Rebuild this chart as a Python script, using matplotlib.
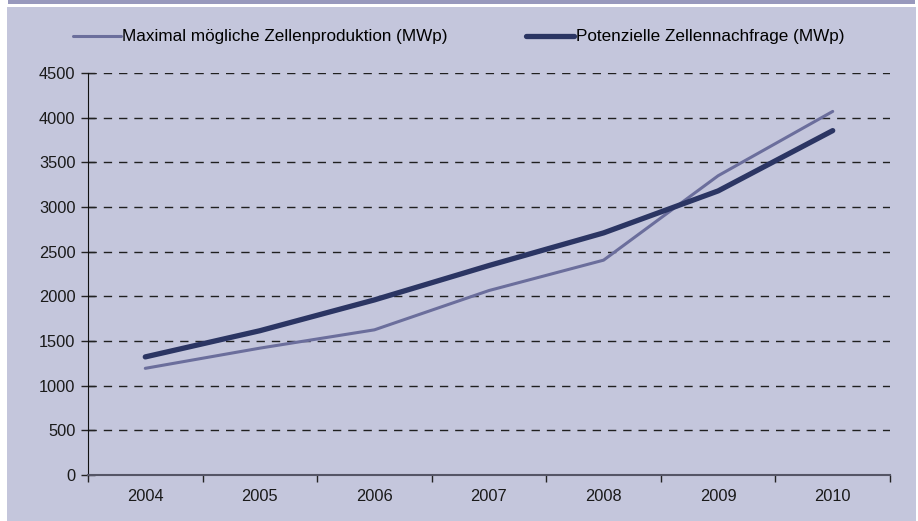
import matplotlib
matplotlib.use("Agg")
import matplotlib.pyplot as plt
from matplotlib.patches import Rectangle

plt.rcParams['font.family'] = ['Liberation Sans', 'DejaVu Sans']

years = ["2004", "2005", "2006", "2007", "2008", "2009", "2010"]
produktion = [1194, 1420, 1625, 2065, 2405, 3350, 4070]
nachfrage = [1322, 1615, 1960, 2345, 2710, 3180, 3855]
yticks = [0, 500, 1000, 1500, 2000, 2500, 3000, 3500, 4000, 4500]

W, H = 918, 521
fig = plt.figure(figsize=(W / 100, H / 100), dpi=100)
fig.patch.set_facecolor("white")
bg = "#c4c6dc"
fig.add_artist(Rectangle((7 / W, 0), (916 - 7) / W, (H - 7) / H,
                         transform=fig.transFigure, facecolor=bg, edgecolor="none", zorder=-10))
fig.add_artist(Rectangle((8 / W, (H - 3.5) / H), (915 - 8) / W, 3.5 / H,
                         transform=fig.transFigure, facecolor="#9899bd", edgecolor="none", zorder=-10))

ax = fig.add_axes([88 / W, (H - 475) / H, (890 - 88) / W, (475 - 73) / H])
ax.set_facecolor("none")

x = [i + 0.5 for i in range(len(years))]
l1, = ax.plot(x, produktion, color="#6b6e9c", lw=2.2, solid_capstyle="round",
              label="Maximal mögliche Zellenproduktion (MWp)")
l2, = ax.plot(x, nachfrage, color="#2b3563", lw=3.8, solid_capstyle="round",
              label="Potenzielle Zellennachfrage (MWp)")

ax.set_xlim(0, len(years))
ax.set_ylim(0, 4500)
ax.set_yticks(yticks)
ax.set_yticklabels([str(v) for v in yticks], fontsize=11.8, color="#1a1a1a")
ax.set_xticks(range(len(years) + 1))
ax.set_xticklabels([])
ax.set_xticks(x, minor=True)
ax.set_xticklabels(years, minor=True, fontsize=11.8, color="#1a1a1a")
ax.tick_params(axis="x", which="major", direction="out", length=5, width=1, color="#222222")
ax.tick_params(axis="x", which="minor", length=0, pad=10)
ax.tick_params(axis="y", direction="inout", length=10, width=1, color="#222222", pad=4)

for v in yticks[1:]:
    ax.axhline(v, color="#202020", lw=1, dashes=(6, 5), zorder=0)

for s in ["top", "right"]:
    ax.spines[s].set_visible(False)
ax.spines["left"].set_color("#111111")
ax.spines["bottom"].set_color("#555566")
ax.spines["bottom"].set_linewidth(1.5)

fig.legend(handles=[l1, l2], loc="center", bbox_to_anchor=(0.4995, 1 - 37 / H), ncol=2,
           frameon=False, fontsize=12.3, handlelength=2.8, handletextpad=0.1,
           columnspacing=4.6)

fig.savefig("out.png", dpi=100, facecolor=fig.get_facecolor())
